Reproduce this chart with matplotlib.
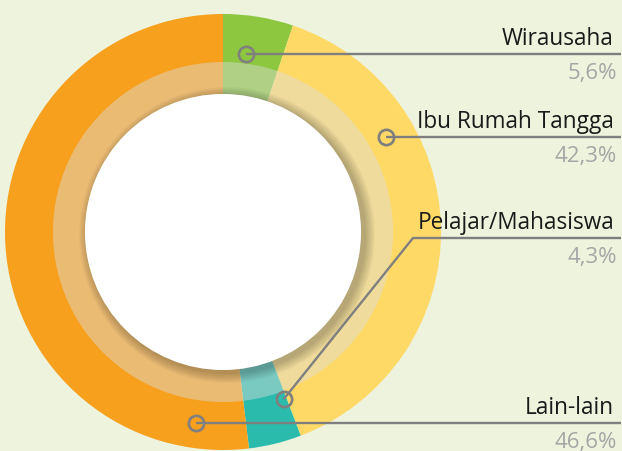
import numpy as np
import matplotlib
matplotlib.use("Agg")
import matplotlib.pyplot as plt
from matplotlib.patches import Circle, Wedge

# ------------------------------------------------------------
# data
# ------------------------------------------------------------
categories = ["Wirausaha", "Ibu Rumah Tangga", "Pelajar/Mahasiswa", "Lain-lain"]
pct_labels = ["5,6%", "42,3%", "4,3%", "46,6%"]
# arc sizes as drawn in the picture (percent of full circle)
arc_share = [5.2, 39.0, 3.9, 51.9]
colors = ["#8DC63F", "#FFD966", "#2BBBAD", "#F7A01E"]

# ------------------------------------------------------------
# layout (pixels)
# ------------------------------------------------------------
W, H = 622, 451
bg = "#EDF3DD"
cx, cy = 223, H - 232
r_out, r_band, r_in = 218, 170, 138

anchor_frac = [0.4, 0.293, 0.07, 0.08]   # where on the arc the marker sits
anchor_r = [180, 189, 178, 193]
elbow = [None, None, (413, H - 238), None]

line_col = "#7F7F7F"
plt.rcParams["font.family"] = ["Open Sans", "DejaVu Sans"]

fig = plt.figure(figsize=(W / 100, H / 100), dpi=100)
fig.patch.set_facecolor(bg)
ax = fig.add_axes([0, 0, 1, 1])
ax.set_facecolor(bg)

ax.pie(arc_share, colors=colors, radius=r_out, center=(cx, cy), startangle=90,
       counterclock=False, frame=True,
       wedgeprops=dict(width=r_out - r_in, linewidth=0, antialiased=True))

# lighter inner band
ax.add_patch(Wedge((cx, cy), r_band, 0, 360, width=r_band - r_in,
                   facecolor="#DCDEDC", alpha=0.45, linewidth=0))

# soft shadow under the white hole (falls to the lower right)
for k in range(10, 0, -1):
    ax.add_patch(Circle((cx + 4, cy - 3), r_in + k, facecolor="black",
                        alpha=0.022, linewidth=0))
ax.add_patch(Circle((cx, cy), r_in, facecolor="white", linewidth=0))

# leader lines and labels
start = 0.0
for i, name in enumerate(categories):
    span = arc_share[i] * 3.6
    theta = np.deg2rad(90 - (start + anchor_frac[i] * span))
    start += span
    ax_ = cx + anchor_r[i] * np.cos(theta)
    ay_ = cy + anchor_r[i] * np.sin(theta)

    if elbow[i] is None:
        xs, ys = [ax_, W - 1], [ay_, ay_]
        ly = ay_
    else:
        ex, ey = elbow[i]
        xs, ys = [ax_, ex, W - 1], [ay_, ey, ey]
        ly = ey
    ax.plot(xs, ys, color=line_col, lw=1.7, solid_capstyle="butt", zorder=5)
    ax.plot([ax_], [ay_], marker="o", markersize=11, markerfacecolor="none",
            markeredgecolor=line_col, markeredgewidth=1.9, zorder=6)

    ax.text(614, ly + 9, name, ha="right", va="baseline", fontsize=16.3,
            color="#1A1A1A", zorder=7)
    ax.text(617, ly - 9, pct_labels[i], ha="right", va="top", fontsize=16,
            color="#A6A6A6", zorder=7)

ax.set_xlim(0, W)
ax.set_ylim(0, H)
ax.set_aspect("equal")
ax.axis("off")

fig.savefig("out.png", dpi=100, facecolor=bg)
